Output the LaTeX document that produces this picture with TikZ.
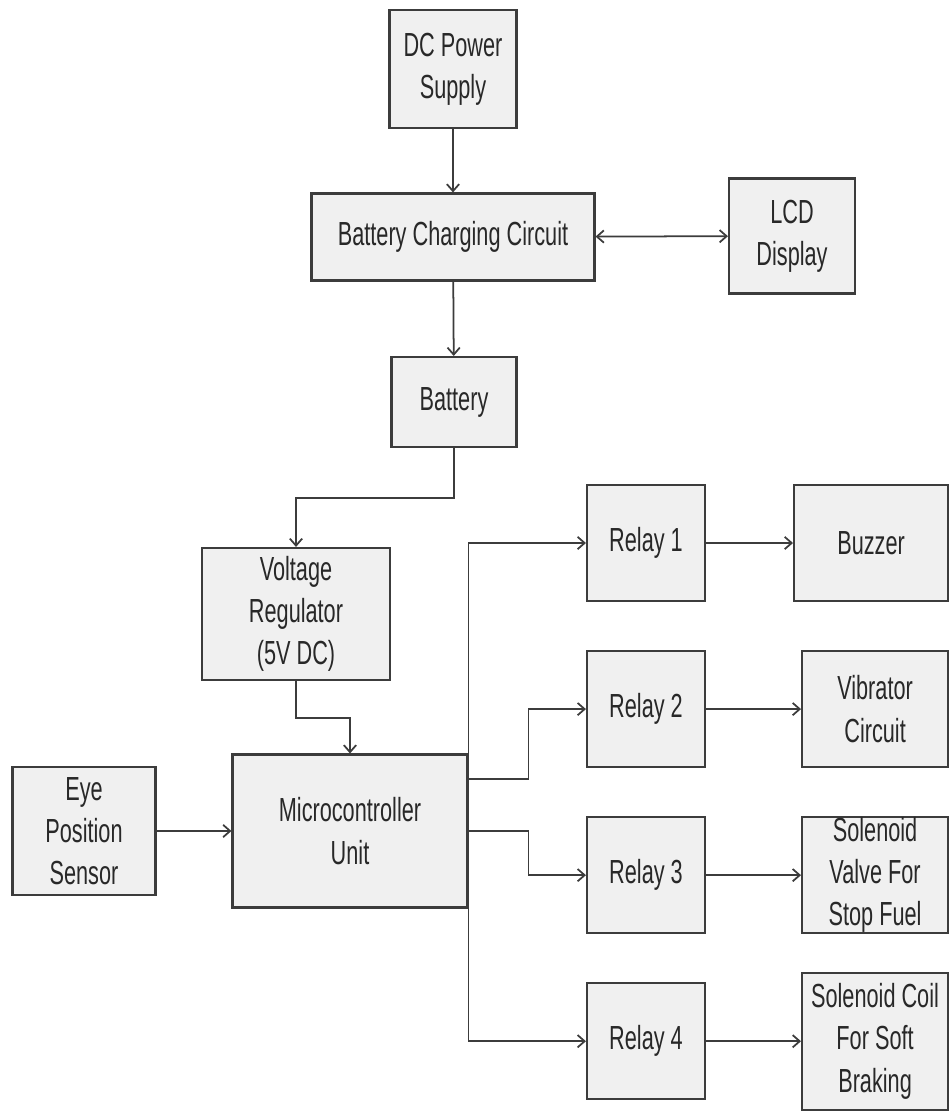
\documentclass[tikz,border=0pt]{standalone}
\usepackage{fontspec}
\setmainfont{Liberation Sans}[FakeStretch=0.65]
\usepackage{xcolor}
\usepackage{tikz}
\usetikzlibrary{arrows.meta,positioning}
\definecolor{boxfill}{RGB}{240,240,240}
\definecolor{ink}{RGB}{60,60,60}
\definecolor{textgray}{RGB}{40,40,40}

\begin{document}
\begin{tikzpicture}[
  x=0.02cm, y=-0.02cm,
  node distance=0.96cm and 1.74cm,
  block/.style={rectangle, draw=ink, fill=boxfill, line width=1.2pt,
    align=center, inner sep=0pt, text=textgray,
    font=\fontsize{19}{24}\selectfont},
  relay/.style={block, minimum width=2.36cm, minimum height=2.32cm},
  load/.style={block, minimum width=2.92cm, minimum height=2.32cm},
  arrow/.style={-{Straight Barb[length=4pt,width=7pt]}, line width=1pt, draw=ink}
]
\useasboundingbox (0,0) rectangle (948,1115);

\node[block, minimum width=2.54cm, minimum height=2.36cm] (supply) at (453,69) {DC Power\\Supply};
\node[block, minimum width=5.66cm, minimum height=1.74cm] (charger) at (453,237) {Battery Charging Circuit};
\node[block, minimum width=2.52cm, minimum height=2.3cm] (lcd) at (792,236) {LCD\\Display};
\node[block, minimum width=2.5cm, minimum height=1.8cm] (battery) at (454,402) {Battery};
\node[block, minimum width=3.76cm, minimum height=2.64cm] (regulator) at (296,614) {Voltage\\Regulator\\(5V DC)};
\node[block, minimum width=4.7cm, minimum height=3.06cm] (mcu) at (350,831) {Microcontroller\\Unit};
\node[block, minimum width=2.86cm, minimum height=2.56cm] (sensor) at (84,831) {Eye\\Position\\Sensor};

\node[relay] (relay1) at (646,543) {Relay 1};
\node[relay, below=of relay1] (relay2) {Relay 2};
\node[relay, below=of relay2] (relay3) {Relay 3};
\node[relay, below=of relay3] (relay4) {Relay 4};

\node[load, minimum width=3.08cm, right=of relay1] (buzzer) {Buzzer};
\node[load, right=1.9cm of relay2] (vibrator) {Vibrator\\Circuit};
\node[load, right=1.9cm of relay3] (valve) {Solenoid\\Valve For\\Stop Fuel};
\node[load, minimum height=2.74cm, right=1.9cm of relay4] (coil) {Solenoid Coil\\For Soft\\Braking};

\draw[arrow] (supply) -- (charger);
\draw[arrow, {Straight Barb[length=4pt,width=7pt]}-{Straight Barb[length=4pt,width=7pt]}] (charger) -- (lcd);
\draw[arrow] (charger) -- (battery);
\draw[arrow] (battery.south) -- ++(0,50) -| (regulator.north);
\draw[arrow] (regulator.south) -- ++(0,37) -| (mcu.north);
\draw[arrow] (sensor) -- (mcu);

% microcontroller outputs
\draw[arrow] (mcu.north east) |- (relay1.west);
\draw[arrow] ([yshift=1.04cm]mcu.east) -- ++(60,0) |- (relay2.west);
\draw[arrow] (mcu.east) -- ++(60,0) |- (relay3.west);
\draw[arrow] (mcu.south east) |- (relay4.west);

\draw[arrow] (relay1) -- (buzzer);
\draw[arrow] (relay2) -- (vibrator);
\draw[arrow] (relay3) -- (valve);
\draw[arrow] (relay4) -- (coil);

\end{tikzpicture}
\end{document}
